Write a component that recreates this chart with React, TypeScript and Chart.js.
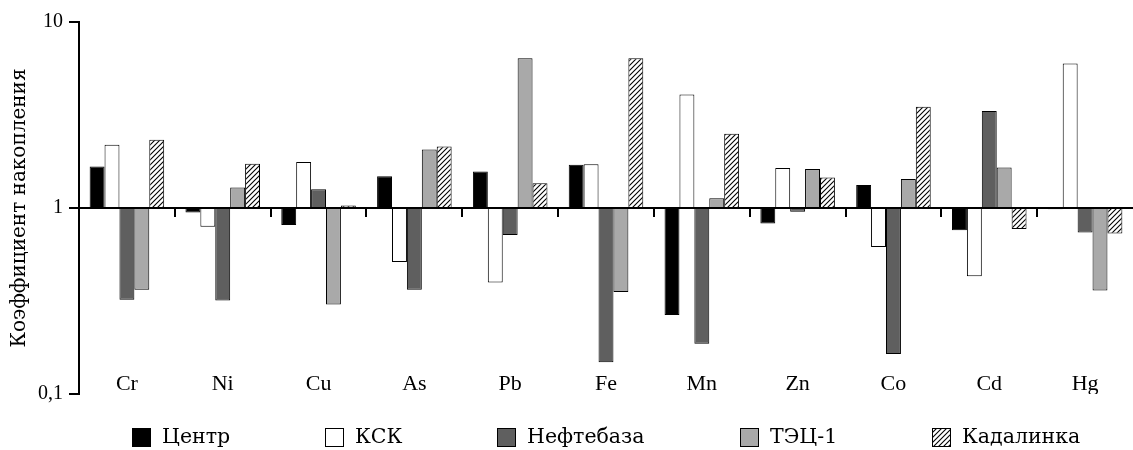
import React, { useEffect, useRef } from 'react';
import { Chart, registerables } from 'chart.js';

Chart.register(...registerables);

const categories = ['Cr', 'Ni', 'Cu', 'As', 'Pb', 'Fe', 'Mn', 'Zn', 'Co', 'Cd', 'Hg'];
const seriesNames = ['Центр', 'КСК', 'Нефтебаза', 'ТЭЦ-1', 'Кадалинка'];
const centr = [1.67, 0.947, 0.81, 1.48, 1.57, 1.71, 0.266, 0.826, 1.33, 0.76, 0.984];
const ksk = [2.19, 0.792, 1.77, 0.513, 0.398, 1.72, 4.08, 1.64, 0.618, 0.429, 5.98];
const neftebaza = [0.321, 0.318, 1.26, 0.363, 0.715, 0.148, 0.186, 0.955, 0.164, 3.32, 0.739];
const tec1 = [0.363, 1.29, 0.303, 2.06, 6.39, 0.353, 1.13, 1.62, 1.43, 1.65, 0.36];
const kadalinka = [2.33, 1.73, 1.03, 2.14, 1.36, 6.39, 2.51, 1.46, 3.5, 0.77, 0.73];
const baseValue = 1;
const yTicks = [0.1, 1, 10];
const yTickLabels = ['0,1', '1', '10'];
const yTitle = 'Коэффициент накопления';

function makeHatch(): CanvasPattern | string {
  const c = document.createElement('canvas');
  const s = 5;
  c.width = s;
  c.height = s;
  const g = c.getContext('2d');
  if (!g) return '#fff';
  g.fillStyle = '#fff';
  g.fillRect(0, 0, s, s);
  g.strokeStyle = '#000';
  g.lineWidth = 1.1;
  g.beginPath();
  g.moveTo(-1, s + 1);
  g.lineTo(s + 1, -1);
  g.moveTo(-1, 1);
  g.lineTo(1, -1);
  g.moveTo(s - 1, s + 1);
  g.lineTo(s + 1, s - 1);
  g.stroke();
  return g.createPattern(c, 'repeat') || '#fff';
}

const baselinePlugin = {
  id: 'baselineTicks',
  afterDatasetsDraw(chart: any) {
    const { ctx, scales, chartArea } = chart;
    const xs = scales.x;
    const ys = scales.y;
    const y1 = ys.getPixelForValue(baseValue);
    ctx.save();
    ctx.strokeStyle = '#000';
    ctx.lineWidth = 2;
    ctx.beginPath();
    ctx.moveTo(chartArea.left, y1);
    ctx.lineTo(chartArea.right, y1);
    for (let i = 1; i < categories.length; i++) {
      const px = Math.round((xs.getPixelForValue(i - 1) + xs.getPixelForValue(i)) / 2);
      ctx.moveTo(px, y1);
      ctx.lineTo(px, y1 + 9);
    }
    ctx.stroke();
    ctx.restore();
  },
};

const legendPlugin = {
  id: 'customLegend',
  afterDraw(chart: any) {
    const ctx = chart.ctx;
    const ds = chart.data.datasets;
    ctx.save();
    ctx.font = '20.5px "DejaVu Serif", serif';
    const box = 19;
    const gapText = 11;
    const gapItem = 95;
    const widths = ds.map((d: any) => box + gapText + ctx.measureText(d.label).width);
    const total = widths.reduce((a: number, b: number) => a + b, 0) + gapItem * (ds.length - 1);
    const ca = chart.chartArea;
    let x = (ca.left + ca.right) / 2 - total / 2;
    const cy = chart.height - 13;
    ds.forEach((d: any, i: number) => {
      const bx = Math.round(x);
      const by = Math.round(cy - box / 2);
      ctx.fillStyle = d.backgroundColor;
      ctx.fillRect(bx, by, box, box);
      ctx.strokeStyle = '#000';
      ctx.lineWidth = 1;
      ctx.strokeRect(bx + 0.5, by + 0.5, box - 1, box - 1);
      ctx.fillStyle = '#000';
      ctx.textBaseline = 'middle';
      ctx.textAlign = 'left';
      ctx.fillText(d.label, bx + box + gapText, cy + 1);
      x += widths[i] + gapItem;
    });
    ctx.restore();
  },
};

export default function App() {
  const ref = useRef<HTMLCanvasElement | null>(null);

  useEffect(() => {
    if (!ref.current) return;
    const hatch = makeHatch();
    const values = [centr, ksk, neftebaza, tec1, kadalinka];
    const fills: any[] = ['#000000', '#ffffff', '#5f5f5f', '#a9a9a9', hatch];
    const datasets = seriesNames.map((name, i) => ({
      label: name,
      data: values[i].map((v) => [baseValue, v]),
      backgroundColor: fills[i],
      borderColor: '#000',
      borderWidth: 1,
      borderSkipped: false as const,
      barPercentage: 1,
      categoryPercentage: 0.778,
    }));
    const chart = new Chart(ref.current, {
      type: 'bar',
      data: { labels: categories, datasets: datasets as any },
      options: {
        responsive: false,
        animation: false,
        layout: { padding: { top: 22, right: -7, bottom: 56, left: 0 } },
        plugins: { legend: { display: false }, tooltip: { enabled: false } },
        scales: {
          x: {
            type: 'category',
            grid: { display: false, drawTicks: false },
            border: { display: false },
            ticks: {
              padding: -23,
              color: '#000',
              autoSkip: false,
              maxRotation: 0,
              font: { family: '"Liberation Serif", serif', size: 22 },
            },
          },
          y: {
            type: 'logarithmic',
            min: 0.1,
            max: 10,
            afterBuildTicks: (s: any) => {
              s.ticks = yTicks.map((v) => ({ value: v }));
            },
            afterFit: (s: any) => {
              s.width = 79;
            },
            grid: { drawOnChartArea: false, color: '#000', tickLength: 10, lineWidth: 2 },
            border: { display: true, color: '#000', width: 2 },
            ticks: {
              padding: 6,
              color: '#000',
              font: { family: '"Liberation Serif", serif', size: 20 },
              callback: (v: any) => {
                const idx = yTicks.indexOf(Number(v));
                return idx >= 0 ? yTickLabels[idx] : '';
              },
            },
            title: {
              display: true,
              text: yTitle,
              color: '#000',
              font: { family: '"DejaVu Serif", serif', size: 20 },
              padding: { top: 8, bottom: 0 },
            },
          },
        },
      },
      plugins: [baselinePlugin, legendPlugin],
    });
    return () => chart.destroy();
  }, []);

  return (
    <div style={{ position: 'absolute', left: 0, top: 0, width: 1133, height: 450, background: '#fff' }}>
      <canvas ref={ref} width={1133} height={450} style={{ width: 1133, height: 450, display: 'block' }} />
    </div>
  );
}
